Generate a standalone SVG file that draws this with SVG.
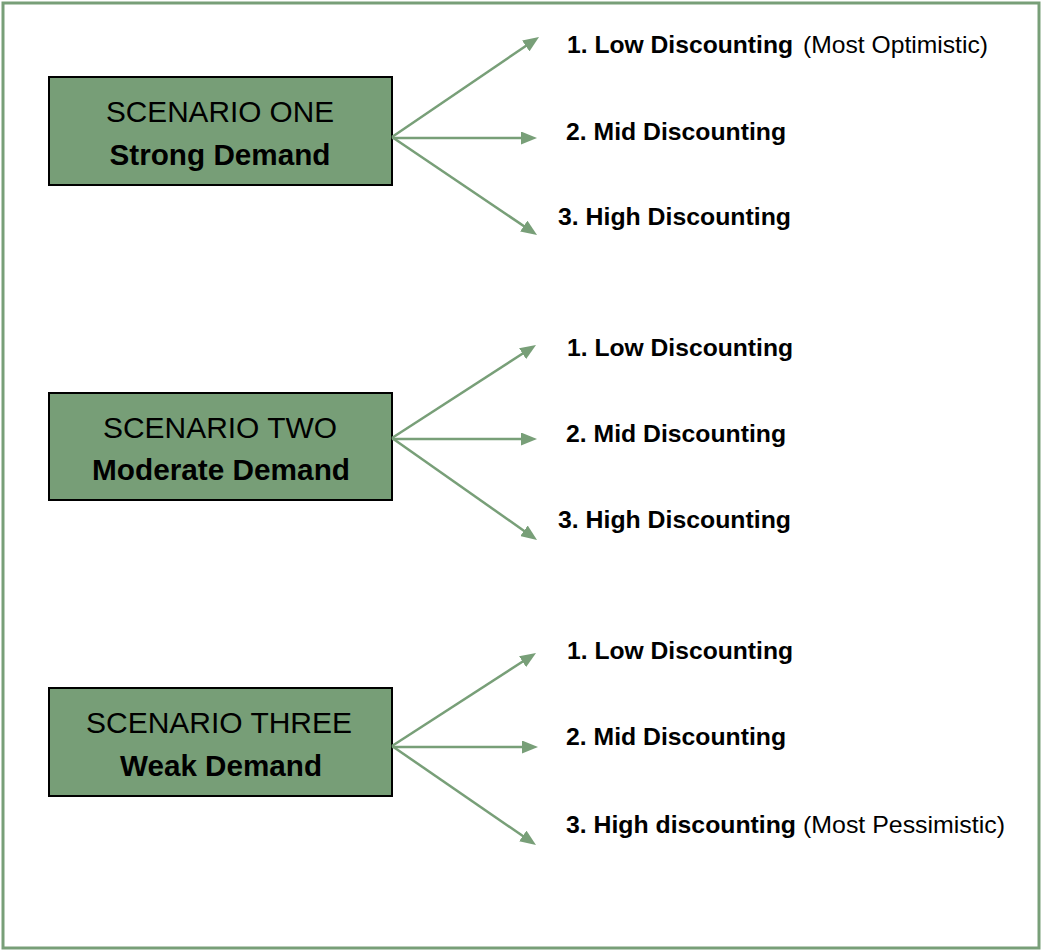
<svg xmlns="http://www.w3.org/2000/svg" width="1042" height="951" viewBox="0 0 1042 951">
<style>
.frame{fill:#fff;stroke:#789f78;stroke-width:3}
.box{fill:#779e77;stroke:#000;stroke-width:2}
.t{font-family:"Liberation Sans",Arial,sans-serif;fill:#000}
.bt{font-size:29px;text-anchor:middle}
.lb{font-size:24px}
.b{font-weight:bold}
.conn line{stroke:#789f78;stroke-width:2.5;fill:none}
</style>
<defs>
<marker id="ah" markerUnits="userSpaceOnUse" viewBox="0 0 16 13" refX="8" refY="6.5" markerWidth="16" markerHeight="13" orient="auto">
<path d="M0,0 L16,6.5 L0,13 z" fill="#789f78"/>
</marker>
</defs>
<rect class="frame" x="3" y="3" width="1036" height="945"/>
<g id="node-s1">
<rect class="box" x="49" y="77" width="343" height="108"/>
<text class="t bt" x="220" y="122" textLength="228" lengthAdjust="spacingAndGlyphs">SCENARIO ONE</text>
<text class="t bt b" x="220" y="165" textLength="221" lengthAdjust="spacingAndGlyphs">Strong Demand</text>
</g>
<g id="node-s2">
<rect class="box" x="49" y="393" width="343" height="107"/>
<text class="t bt" x="220" y="438" textLength="234" lengthAdjust="spacingAndGlyphs">SCENARIO TWO</text>
<text class="t bt b" x="221" y="480" textLength="258" lengthAdjust="spacingAndGlyphs">Moderate Demand</text>
</g>
<g id="node-s3">
<rect class="box" x="49" y="688" width="343" height="108"/>
<text class="t bt" x="219" y="733" textLength="266" lengthAdjust="spacingAndGlyphs">SCENARIO THREE</text>
<text class="t bt b" x="221" y="776" textLength="202" lengthAdjust="spacingAndGlyphs">Weak Demand</text>
</g>
<g id="node-s1-low"><text class="t lb" x="567" y="53"><tspan class="b" textLength="226" lengthAdjust="spacingAndGlyphs">1. Low Discounting</tspan><tspan x="803" textLength="185" lengthAdjust="spacingAndGlyphs">(Most Optimistic)</tspan></text></g>
<g id="node-s1-mid"><text class="t lb b" x="566" y="140" textLength="220" lengthAdjust="spacingAndGlyphs">2. Mid Discounting</text></g>
<g id="node-s1-high"><text class="t lb b" x="558" y="225" textLength="233" lengthAdjust="spacingAndGlyphs">3. High Discounting</text></g>
<g id="node-s2-low"><text class="t lb b" x="567" y="356" textLength="226" lengthAdjust="spacingAndGlyphs">1. Low Discounting</text></g>
<g id="node-s2-mid"><text class="t lb b" x="566" y="442" textLength="220" lengthAdjust="spacingAndGlyphs">2. Mid Discounting</text></g>
<g id="node-s2-high"><text class="t lb b" x="558" y="528" textLength="233" lengthAdjust="spacingAndGlyphs">3. High Discounting</text></g>
<g id="node-s3-low"><text class="t lb b" x="567" y="659" textLength="226" lengthAdjust="spacingAndGlyphs">1. Low Discounting</text></g>
<g id="node-s3-mid"><text class="t lb b" x="566" y="745" textLength="220" lengthAdjust="spacingAndGlyphs">2. Mid Discounting</text></g>
<g id="node-s3-high"><text class="t lb" x="566" y="833"><tspan class="b" textLength="230" lengthAdjust="spacingAndGlyphs">3. High discounting</tspan><tspan x="803" textLength="202" lengthAdjust="spacingAndGlyphs">(Most Pessimistic)</tspan></text></g>
<g id="connectors" class="conn">
<line x1="392" y1="137" x2="532.4" y2="41.5" marker-end="url(#ah)"/>
<line x1="392" y1="138" x2="529" y2="138" marker-end="url(#ah)"/>
<line x1="392" y1="137" x2="530.4" y2="230.5" marker-end="url(#ah)"/>
<line x1="392" y1="438" x2="529.3" y2="349.3" marker-end="url(#ah)"/>
<line x1="392" y1="439" x2="529" y2="439" marker-end="url(#ah)"/>
<line x1="392" y1="438" x2="530.5" y2="535.4" marker-end="url(#ah)"/>
<line x1="392" y1="746" x2="529.3" y2="657.3" marker-end="url(#ah)"/>
<line x1="392" y1="747" x2="530" y2="747" marker-end="url(#ah)"/>
<line x1="392" y1="746" x2="529.4" y2="840.5" marker-end="url(#ah)"/>
</g>
</svg>
